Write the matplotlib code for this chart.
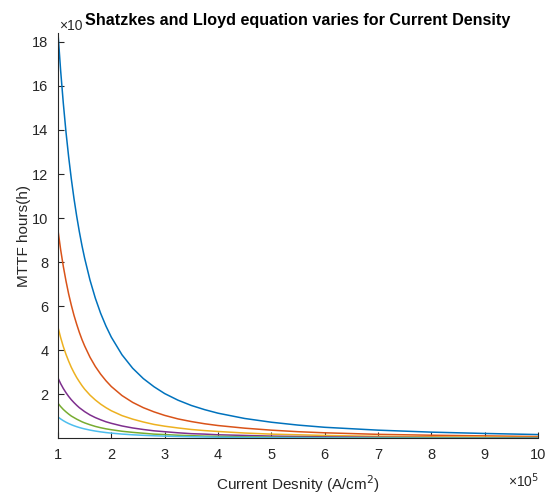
import numpy as np
import matplotlib
matplotlib.use('Agg')
from matplotlib import pyplot as plt

plt.rcParams['font.family'] = ['Liberation Sans', 'DejaVu Sans']

# current density (x1e5 A/cm^2)
J = [1.0, 1.05, 1.1, 1.15, 1.2, 1.25, 1.3, 1.35, 1.4, 1.45, 1.5, 1.6, 1.7, 1.8,
     1.9, 2.0, 2.2, 2.4, 2.6, 2.8, 3.0, 3.25, 3.5, 3.75, 4.0, 4.5, 5.0, 5.5,
     6.0, 7.0, 8.0, 9.0, 10.0]

# MTTF for each temperature
mttf_1 = [18.4, 16.69, 15.21, 13.91, 12.78, 11.78, 10.89, 10.10, 9.39, 8.75,
          8.18, 7.19, 6.37, 5.68, 5.10, 4.60, 3.80, 3.19, 2.72, 2.35, 2.04,
          1.74, 1.50, 1.31, 1.15, 0.91, 0.74, 0.61, 0.51, 0.38, 0.29, 0.23, 0.18]
mttf_2 = [9.45, 8.57, 7.81, 7.15, 6.56, 6.05, 5.59, 5.19, 4.82, 4.49, 4.20,
          3.69, 3.27, 2.92, 2.62, 2.36, 1.95, 1.64, 1.40, 1.21, 1.05, 0.89,
          0.77, 0.67, 0.59, 0.47, 0.38, 0.31, 0.26, 0.19, 0.15, 0.12, 0.09]
mttf_3 = [5.05, 4.58, 4.17, 3.82, 3.51, 3.23, 2.99, 2.77, 2.58, 2.40, 2.24,
          1.97, 1.75, 1.56, 1.40, 1.26, 1.04, 0.88, 0.75, 0.64, 0.56, 0.48,
          0.41, 0.36, 0.32, 0.25, 0.20, 0.17, 0.14, 0.10, 0.079, 0.062, 0.05]
mttf_4 = [2.75, 2.49, 2.27, 2.08, 1.91, 1.76, 1.63, 1.51, 1.40, 1.31, 1.22,
          1.07, 0.95, 0.85, 0.76, 0.69, 0.57, 0.48, 0.41, 0.35, 0.31, 0.26,
          0.22, 0.20, 0.17, 0.14, 0.11, 0.091, 0.076, 0.056, 0.043, 0.034, 0.0275]
mttf_5 = [1.6, 1.45, 1.32, 1.21, 1.11, 1.02, 0.95, 0.88, 0.82, 0.76, 0.71,
          0.625, 0.55, 0.49, 0.44, 0.40, 0.33, 0.28, 0.24, 0.20, 0.18, 0.15,
          0.13, 0.11, 0.10, 0.079, 0.064, 0.053, 0.044, 0.033, 0.025, 0.020, 0.016]
mttf_6 = [0.98, 0.889, 0.81, 0.741, 0.68, 0.627, 0.58, 0.538, 0.50, 0.466,
          0.436, 0.383, 0.339, 0.302, 0.271, 0.245, 0.202, 0.170, 0.145, 0.125,
          0.109, 0.093, 0.080, 0.070, 0.061, 0.048, 0.039, 0.032, 0.027, 0.020,
          0.015, 0.012, 0.0098]

colors = ['#0072BD', '#D95319', '#EDB120', '#7E2F8E', '#77AC30', '#4DBEEE']
series = [mttf_1, mttf_2, mttf_3, mttf_4, mttf_5, mttf_6]

fig = plt.figure(figsize=(5.48, 4.96), dpi=100)
ax = fig.add_axes([0.1058, 0.1163, 0.876, 0.8172])

for s, c in zip(series, colors):
    ax.plot(J, s, color=c, lw=1.1)

ax.set_xlim(1, 10)
ax.set_ylim(min(mttf_6), max(mttf_1))
ax.set_xticks(range(1, 11))
ax.set_yticks(range(2, 19, 2))

tc = '#262626'
for sp in ['top', 'right']:
    ax.spines[sp].set_visible(False)
for sp in ['left', 'bottom']:
    ax.spines[sp].set_color(tc)
    ax.spines[sp].set_linewidth(0.8)
ax.tick_params(direction='in', length=4, width=0.8, colors=tc, labelsize=10.5, pad=7)

ax.set_xlabel('Current Desnity (A/cm$^2$)', fontsize=11, color=tc, labelpad=8)
ax.set_ylabel('MTTF hours(h)', fontsize=11, color=tc, labelpad=0.5)

fig.text(0.108, 0.947, '×10', fontsize=10, color=tc, ha='left', va='center')
fig.text(0.983, 0.03, '×10$^5$', fontsize=10, color=tc, ha='right', va='center')
fig.text(0.543, 0.958, 'Shatzkes and Lloyd equation varies for Current Density',
         fontsize=11.6, fontweight='bold', color='black', ha='center', va='center')

fig.savefig('out.png', dpi=100)
